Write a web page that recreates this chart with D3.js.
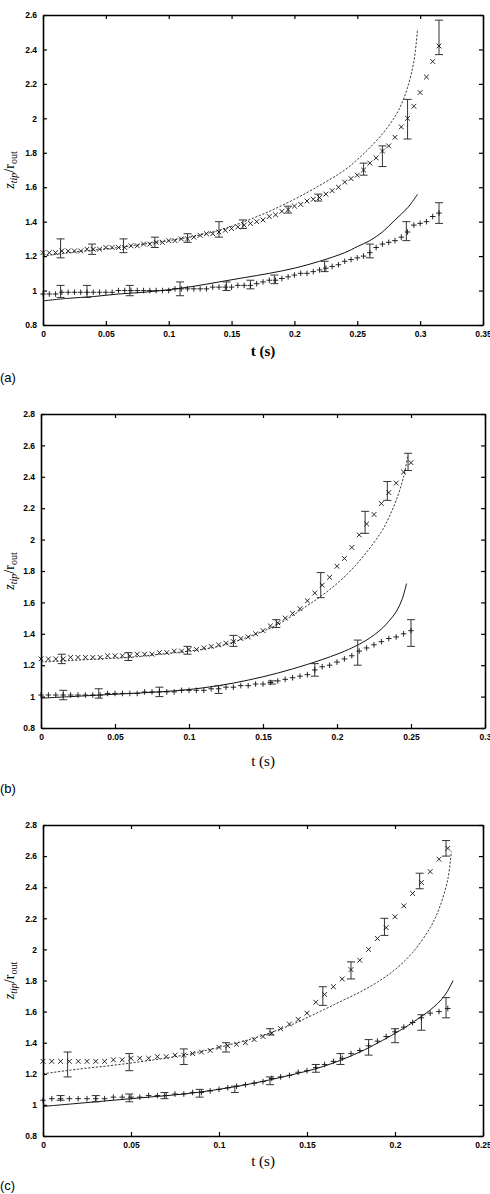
<!DOCTYPE html>
<html>
<head>
<meta charset="utf-8">
<script src="https://cdn.jsdelivr.net/npm/d3@7"></script>
<style>
  body { margin: 0; background: #fff; }
  .tick text { font-family: "Liberation Sans", Arial, sans-serif; font-weight: bold; font-size: 8.5px; }
</style>
</head>
<body>
<div id="chart"></div>
<script>
// ---- panel (a) ----
const aCross = [
  [0.000,1.22],[0.005,1.22],[0.010,1.22],[0.015,1.23],[0.020,1.23],[0.025,1.23],[0.030,1.23],[0.035,1.24],
  [0.040,1.24],[0.045,1.24],[0.050,1.25],[0.055,1.25],[0.060,1.25],[0.065,1.25],[0.070,1.26],[0.075,1.26],
  [0.080,1.27],[0.085,1.27],[0.090,1.28],[0.095,1.28],[0.100,1.29],[0.105,1.29],[0.110,1.30],[0.115,1.30],
  [0.120,1.31],[0.125,1.32],[0.130,1.33],[0.135,1.33],[0.140,1.34],[0.145,1.35],[0.150,1.36],[0.155,1.37],
  [0.160,1.38],[0.165,1.39],[0.170,1.40],[0.175,1.41],[0.180,1.43],[0.185,1.44],[0.190,1.46],[0.195,1.47],
  [0.200,1.49],[0.205,1.50],[0.210,1.52],[0.215,1.53],[0.220,1.54],[0.225,1.56],[0.230,1.58],[0.235,1.60],
  [0.240,1.63],[0.245,1.65],[0.250,1.67],[0.255,1.70],[0.260,1.74],[0.265,1.77],[0.270,1.81],[0.275,1.84],
  [0.280,1.89],[0.285,1.95],[0.290,2.00],[0.295,2.07],[0.300,2.15],[0.305,2.24],[0.310,2.33],[0.315,2.42]
];
const aPlus = [
  [0.000,0.98],[0.005,0.98],[0.010,0.98],[0.015,0.99],[0.020,0.99],[0.025,0.99],[0.030,0.99],[0.035,0.99],
  [0.040,0.99],[0.045,0.99],[0.050,0.99],[0.055,0.99],[0.060,1.00],[0.065,1.00],[0.070,1.00],[0.075,1.00],
  [0.080,1.00],[0.085,1.00],[0.090,1.00],[0.095,1.00],[0.100,1.00],[0.105,1.01],[0.110,1.01],[0.115,1.01],
  [0.120,1.01],[0.125,1.01],[0.130,1.01],[0.135,1.02],[0.140,1.02],[0.145,1.02],[0.150,1.02],[0.155,1.03],
  [0.160,1.03],[0.165,1.03],[0.170,1.04],[0.175,1.05],[0.180,1.06],[0.185,1.06],[0.190,1.07],[0.195,1.08],
  [0.200,1.09],[0.205,1.10],[0.210,1.10],[0.215,1.11],[0.220,1.12],[0.225,1.13],[0.230,1.14],[0.235,1.15],
  [0.240,1.17],[0.245,1.18],[0.250,1.19],[0.255,1.20],[0.260,1.22],[0.265,1.25],[0.270,1.27],[0.275,1.28],
  [0.280,1.29],[0.285,1.31],[0.290,1.34],[0.295,1.38],[0.300,1.39],[0.305,1.40],[0.310,1.43],[0.315,1.45]
];
// [t, low, high]
const aCrossErr = [
  [0.014,1.19,1.30],[0.039,1.21,1.27],[0.064,1.22,1.30],[0.089,1.25,1.31],[0.115,1.28,1.33],
  [0.140,1.31,1.40],[0.159,1.36,1.41],[0.195,1.45,1.49],[0.219,1.52,1.56],[0.255,1.67,1.74],
  [0.270,1.72,1.84],[0.290,1.88,2.11],[0.315,2.37,2.57]
];
const aPlusErr = [
  [0.014,0.96,1.03],[0.035,0.96,1.03],[0.069,0.97,1.03],[0.109,0.97,1.05],[0.146,1.00,1.05],
  [0.165,1.01,1.06],[0.184,1.04,1.09],[0.224,1.11,1.17],[0.260,1.19,1.27],[0.289,1.29,1.40],
  [0.315,1.39,1.51]
];
const aDashed = [
  [0.00,1.20],[0.02,1.22],[0.04,1.235],[0.06,1.25],[0.08,1.27],[0.10,1.29],[0.12,1.315],[0.14,1.35],
  [0.16,1.40],[0.18,1.46],[0.20,1.53],[0.22,1.61],[0.24,1.70],[0.25,1.76],[0.26,1.83],[0.27,1.91],
  [0.28,2.01],[0.285,2.08],[0.29,2.18],[0.295,2.33],[0.298,2.52]
];
const aSolid = [
  [0.00,0.94],[0.02,0.955],[0.04,0.965],[0.06,0.98],[0.08,0.99],[0.10,1.005],[0.12,1.025],[0.14,1.05],
  [0.16,1.075],[0.18,1.10],[0.20,1.13],[0.22,1.17],[0.24,1.22],[0.25,1.255],[0.26,1.29],[0.27,1.34],
  [0.28,1.41],[0.29,1.48],[0.298,1.56]
];

// ---- panel (b) ----
const bCross = [
  [0.000,1.24],[0.005,1.24],[0.010,1.24],[0.015,1.24],[0.020,1.25],[0.025,1.25],[0.030,1.25],[0.035,1.25],
  [0.040,1.25],[0.045,1.26],[0.050,1.26],[0.055,1.26],[0.060,1.26],[0.065,1.27],[0.070,1.27],[0.075,1.27],
  [0.080,1.28],[0.085,1.28],[0.090,1.29],[0.095,1.29],[0.100,1.30],[0.105,1.30],[0.110,1.31],[0.115,1.32],
  [0.120,1.33],[0.125,1.34],[0.130,1.35],[0.135,1.37],[0.140,1.38],[0.145,1.40],[0.150,1.42],[0.155,1.45],
  [0.160,1.47],[0.165,1.50],[0.170,1.53],[0.175,1.56],[0.180,1.61],[0.185,1.66],[0.190,1.71],[0.195,1.76],
  [0.200,1.83],[0.205,1.88],[0.210,1.95],[0.215,2.03],[0.220,2.10],[0.225,2.16],[0.230,2.23],[0.235,2.30],
  [0.240,2.36],[0.245,2.43],[0.250,2.49]
];
const bPlus = [
  [0.000,1.01],[0.005,1.01],[0.010,1.01],[0.015,1.01],[0.020,1.01],[0.025,1.01],[0.030,1.01],[0.035,1.01],
  [0.040,1.01],[0.045,1.02],[0.050,1.02],[0.055,1.02],[0.060,1.02],[0.065,1.02],[0.070,1.03],[0.075,1.03],
  [0.080,1.03],[0.085,1.03],[0.090,1.03],[0.095,1.04],[0.100,1.04],[0.105,1.04],[0.110,1.04],[0.115,1.05],
  [0.120,1.05],[0.125,1.06],[0.130,1.06],[0.135,1.07],[0.140,1.07],[0.145,1.08],[0.150,1.08],[0.155,1.09],
  [0.160,1.10],[0.165,1.11],[0.170,1.12],[0.175,1.13],[0.180,1.14],[0.185,1.17],[0.190,1.19],[0.195,1.20],
  [0.200,1.22],[0.205,1.24],[0.210,1.26],[0.215,1.29],[0.220,1.31],[0.225,1.33],[0.230,1.35],[0.235,1.37],
  [0.240,1.38],[0.245,1.40],[0.250,1.42]
];
const bCrossErr = [
  [0.014,1.21,1.27],[0.059,1.23,1.28],[0.099,1.27,1.32],[0.130,1.32,1.39],[0.159,1.44,1.49],
  [0.189,1.63,1.79],[0.219,2.04,2.18],[0.234,2.25,2.37],[0.248,2.44,2.55]
];
const bPlusErr = [
  [0.015,0.98,1.04],[0.039,0.99,1.05],[0.080,1.00,1.06],[0.120,1.02,1.07],[0.156,1.08,1.10],
  [0.185,1.13,1.21],[0.214,1.20,1.36],[0.250,1.32,1.49]
];
const bDashed = [
  [0.00,1.22],[0.02,1.23],[0.04,1.24],[0.06,1.25],[0.08,1.27],[0.10,1.29],[0.12,1.32],[0.14,1.38],
  [0.16,1.46],[0.18,1.58],[0.19,1.645],[0.20,1.72],[0.21,1.81],[0.22,1.92],[0.23,2.05],[0.235,2.14],
  [0.24,2.25],[0.245,2.40],[0.248,2.54]
];
const bSolid = [
  [0.00,0.99],[0.02,1.00],[0.04,1.01],[0.06,1.02],[0.08,1.03],[0.10,1.045],[0.12,1.07],[0.14,1.105],
  [0.16,1.15],[0.18,1.205],[0.20,1.27],[0.21,1.31],[0.22,1.36],[0.23,1.43],[0.235,1.48],[0.24,1.54],
  [0.244,1.62],[0.247,1.72]
];

// ---- panel (c) ----
const cCross = [
  [0.000,1.28],[0.005,1.28],[0.010,1.28],[0.015,1.28],[0.020,1.28],[0.025,1.28],[0.030,1.28],[0.035,1.28],
  [0.040,1.29],[0.045,1.29],[0.050,1.30],[0.055,1.30],[0.060,1.30],[0.065,1.31],[0.070,1.31],[0.075,1.32],
  [0.080,1.32],[0.085,1.33],[0.090,1.34],[0.095,1.35],[0.100,1.37],[0.105,1.38],[0.110,1.39],[0.115,1.40],
  [0.120,1.42],[0.125,1.44],[0.130,1.46],[0.135,1.49],[0.140,1.52],[0.145,1.55],[0.150,1.59],[0.155,1.66],
  [0.160,1.71],[0.165,1.76],[0.170,1.81],[0.175,1.87],[0.180,1.93],[0.185,2.00],[0.190,2.07],[0.195,2.14],
  [0.200,2.21],[0.205,2.28],[0.210,2.36],[0.215,2.43],[0.220,2.50],[0.225,2.58],[0.230,2.65]
];
const cPlus = [
  [0.000,1.03],[0.005,1.04],[0.010,1.04],[0.015,1.04],[0.020,1.04],[0.025,1.04],[0.030,1.04],[0.035,1.04],
  [0.040,1.05],[0.045,1.05],[0.050,1.05],[0.055,1.05],[0.060,1.06],[0.065,1.06],[0.070,1.06],[0.075,1.07],
  [0.080,1.07],[0.085,1.08],[0.090,1.08],[0.095,1.09],[0.100,1.10],[0.105,1.11],[0.110,1.12],[0.115,1.13],
  [0.120,1.14],[0.125,1.15],[0.130,1.17],[0.135,1.18],[0.140,1.19],[0.145,1.21],[0.150,1.22],[0.155,1.24],
  [0.160,1.26],[0.165,1.28],[0.170,1.30],[0.175,1.33],[0.180,1.35],[0.185,1.38],[0.190,1.41],[0.195,1.44],
  [0.200,1.47],[0.205,1.50],[0.210,1.53],[0.215,1.56],[0.220,1.59],[0.225,1.60],[0.230,1.62]
];
const cCrossErr = [
  [0.014,1.18,1.34],[0.049,1.22,1.33],[0.080,1.26,1.36],[0.104,1.34,1.40],[0.129,1.45,1.49],
  [0.159,1.64,1.76],[0.175,1.81,1.92],[0.194,2.09,2.20],[0.214,2.39,2.49],[0.229,2.60,2.70]
];
const cPlusErr = [
  [0.010,1.03,1.06],[0.030,1.02,1.06],[0.049,1.02,1.07],[0.069,1.04,1.08],[0.089,1.05,1.10],
  [0.109,1.08,1.12],[0.129,1.13,1.18],[0.155,1.21,1.26],[0.169,1.26,1.33],[0.185,1.32,1.42],
  [0.200,1.40,1.49],[0.215,1.48,1.58],[0.229,1.56,1.69]
];
const cDashed = [
  [0.00,1.20],[0.02,1.23],[0.04,1.255],[0.06,1.285],[0.08,1.32],[0.10,1.37],[0.12,1.43],[0.14,1.51],
  [0.16,1.615],[0.17,1.67],[0.18,1.725],[0.19,1.79],[0.20,1.87],[0.21,1.98],[0.22,2.14],[0.225,2.26],
  [0.23,2.45],[0.232,2.63]
];
const cSolid = [
  [0.00,0.99],[0.02,1.01],[0.04,1.03],[0.06,1.05],[0.08,1.07],[0.10,1.10],[0.12,1.14],[0.14,1.19],
  [0.16,1.25],[0.18,1.34],[0.20,1.46],[0.21,1.53],[0.22,1.61],[0.228,1.70],[0.233,1.80]
];

const xTicksA = [0, 0.05, 0.1, 0.15, 0.2, 0.25, 0.3, 0.35];
const xTicksB = [0, 0.05, 0.1, 0.15, 0.2, 0.25, 0.3];
const xTicksC = [0, 0.05, 0.1, 0.15, 0.2, 0.25];
const yTicksA = [0.8, 1, 1.2, 1.4, 1.6, 1.8, 2, 2.2, 2.4, 2.6];
const yTicksBC = [0.8, 1, 1.2, 1.4, 1.6, 1.8, 2, 2.2, 2.4, 2.6, 2.8];

const W = 490, H = 1194;
const svg = d3.select("#chart").append("svg").attr("width", W).attr("height", H);

const CROSS = "M-2.4,-2.4L2.4,2.4M-2.4,2.4L2.4,-2.4";
const PLUS = "M-2.8,0H2.8M0,-2.8V2.8";
const SERIF = "'Liberation Serif', 'DejaVu Serif', serif";
const fmt = (d) => String(+d.toFixed(2));

function drawPanel(p) {
  const x = d3.scaleLinear().domain([0, p.xTicks[p.xTicks.length - 1]]).range([p.left, p.right]);
  const y = d3.scaleLinear().domain([p.yTicks[0], p.yTicks[p.yTicks.length - 1]]).range([p.bottom, p.top]);
  const g = svg.append("g");

  // model curves
  const line = d3.line().x((d) => x(d[0])).y((d) => y(d[1])).curve(d3.curveCatmullRom.alpha(0.5));
  g.append("path").attr("d", line(p.dashed)).attr("fill", "none")
    .attr("stroke", "#222").attr("stroke-width", 0.9).attr("stroke-dasharray", "2.2,1.6");
  g.append("path").attr("d", line(p.solid)).attr("fill", "none")
    .attr("stroke", "#111").attr("stroke-width", 1);

  // error bars
  const errs = p.crossErr.concat(p.plusErr);
  const eb = g.append("g").attr("stroke", "#333").attr("stroke-width", 1);
  eb.selectAll("path").data(errs).enter().append("path")
    .attr("fill", "none")
    .attr("d", (d) => {
      const cx = x(d[0]), lo = y(d[1]), hi = y(d[2]);
      return `M${cx},${lo}V${hi}M${cx - 4},${hi}H${cx + 4}M${cx - 4},${lo}H${cx + 4}`;
    });

  // markers
  g.append("g").selectAll("path").data(p.cross).enter().append("path")
    .attr("d", CROSS).attr("transform", (d) => `translate(${x(d[0])},${y(d[1])})`)
    .attr("stroke", "#111").attr("stroke-width", 0.9).attr("fill", "none");
  g.append("g").selectAll("path").data(p.plus).enter().append("path")
    .attr("d", PLUS).attr("transform", (d) => `translate(${x(d[0])},${y(d[1])})`)
    .attr("stroke", "#111").attr("stroke-width", 0.9).attr("fill", "none");

  // axes, ticks pointing inward on all four sides
  const axes = [
    [d3.axisBottom(x).tickValues(p.xTicks).tickFormat(fmt), `translate(0,${p.bottom})`],
    [d3.axisTop(x).tickValues(p.xTicks).tickFormat(""), `translate(0,${p.top})`],
    [d3.axisLeft(y).tickValues(p.yTicks).tickFormat(fmt), `translate(${p.left},0)`],
    [d3.axisRight(y).tickValues(p.yTicks).tickFormat(""), `translate(${p.right},0)`]
  ];
  axes.forEach(([ax, tr]) => {
    const a = g.append("g").attr("transform", tr)
      .call(ax.tickSizeInner(-4).tickSizeOuter(0).tickPadding(6));
    a.select(".domain").attr("stroke", "#000").attr("stroke-width", 1.6);
    a.selectAll(".tick line").attr("stroke", "#000").attr("stroke-width", 1.2);
    a.selectAll(".tick text").attr("fill", "#000");
  });

  // x label
  g.append("text").attr("x", (p.left + p.right) / 2).attr("y", p.bottom + p.xLabelDy)
    .attr("text-anchor", "middle")
    .style("font-family", SERIF)
    .style("font-size", "15px").style("font-weight", p.boldX ? "bold" : "normal")
    .text("t (s)");

  // y label
  const yl = g.append("text")
    .attr("transform", `translate(${14},${(p.top + p.bottom) / 2}) rotate(-90)`)
    .attr("text-anchor", "middle")
    .style("font-family", SERIF)
    .style("font-size", "14px");
  yl.append("tspan").style("font-style", "italic").text("z");
  yl.append("tspan").attr("dy", 3).style("font-size", "10px").style("font-style", "italic").text("tip");
  yl.append("tspan").attr("dy", -3).text("/r");
  yl.append("tspan").attr("dy", 3).style("font-size", "10px").text("out");

  // panel letter
  g.append("text").attr("x", 0).attr("y", p.letterY)
    .style("font-family", "'Liberation Sans', Arial, sans-serif").style("font-size", "13px")
    .text(p.letter);
}

drawPanel({ left: 43, right: 483, top: 15, bottom: 325, xTicks: xTicksA, yTicks: yTicksA,
  cross: aCross, plus: aPlus, crossErr: aCrossErr, plusErr: aPlusErr, dashed: aDashed, solid: aSolid,
  xLabelDy: 31, boldX: true, letter: "(a)", letterY: 382 });
drawPanel({ left: 41, right: 485, top: 414, bottom: 728, xTicks: xTicksB, yTicks: yTicksBC,
  cross: bCross, plus: bPlus, crossErr: bCrossErr, plusErr: bPlusErr, dashed: bDashed, solid: bSolid,
  xLabelDy: 38, boldX: false, letter: "(b)", letterY: 793 });
drawPanel({ left: 43, right: 483, top: 825, bottom: 1136, xTicks: xTicksC, yTicks: yTicksBC,
  cross: cCross, plus: cPlus, crossErr: cCrossErr, plusErr: cPlusErr, dashed: cDashed, solid: cSolid,
  xLabelDy: 30, boldX: false, letter: "(c)", letterY: 1190 });
</script>
</body>
</html>
